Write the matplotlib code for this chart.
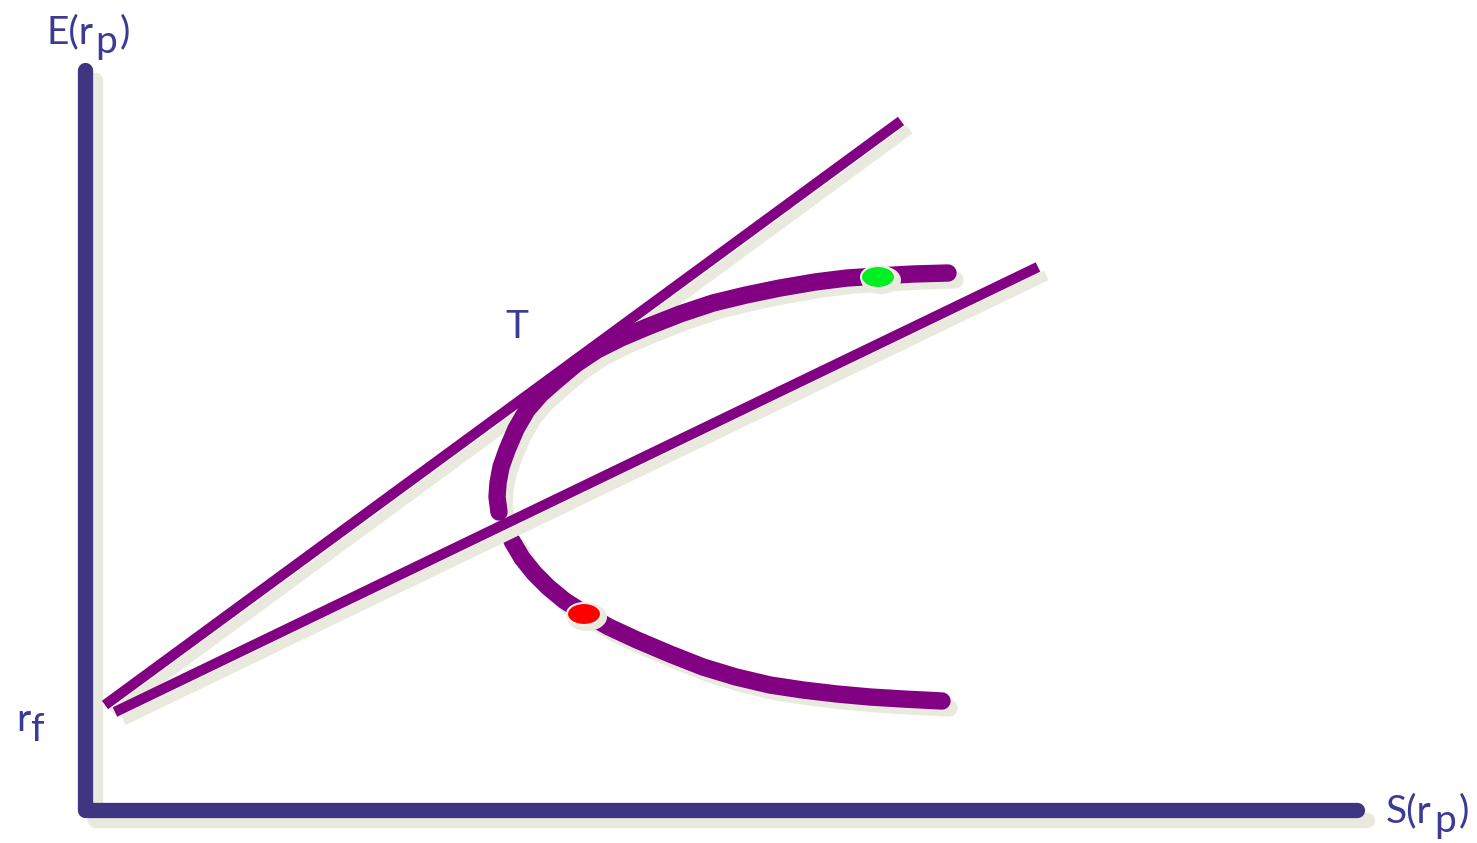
import matplotlib
matplotlib.use("Agg")
import matplotlib.pyplot as plt
import matplotlib.patheffects as pe
from matplotlib.patches import Ellipse

plt.rcParams['font.family'] = ['Lato', 'DejaVu Sans']

# ---- data (canvas units: x right, y down) ----
axis_x = [85, 85, 1357]
axis_y = [70, 810, 810]

upper_line_x = [105, 901]
upper_line_y = [705, 121]

lower_line_x = [115, 1038]
lower_line_y = [712, 267]

frontier_top_x = [948, 913, 878, 847, 815, 780, 746, 713, 680, 647, 621, 597, 576,
                  557, 541, 527, 516, 507, 501, 498, 497, 499]
frontier_top_y = [273, 274, 276, 278, 282, 288, 295, 303, 314, 327, 338, 350, 364,
                  380, 394, 410, 429, 450, 467, 483, 497, 512]
frontier_bot_x = [512, 522, 534, 548, 565, 584, 609, 637, 670, 703, 736, 770, 803,
                  837, 870, 903, 942]
frontier_bot_y = [541, 558, 573, 587, 601, 613, 627, 640, 654, 667, 677, 685, 690,
                  694, 697, 699, 701]

green_pt = (878, 277)
red_pt = (584, 614)

# label pieces: (text, x, baseline y)
label_parts = [
    ('E(r', 47, 43), ('p', 95, 53), (')', 120, 43),
    ('S(r', 1386, 822), ('p', 1434, 832), (')', 1459, 822),
    ('T', 505, 338),
    ('r', 16, 731), ('f', 30, 741),
]

# ---- styles ----
AXIS_C = '#3f3682'
PURPLE = '#820082'
SHADOW = '#e9e9dd'
TEXT_C = '#3b3b96'

fig = plt.figure(figsize=(14.77, 8.43), dpi=100)
ax = fig.add_axes([0, 0, 1, 1])
ax.set_xlim(0, 1477)
ax.set_ylim(843, 0)
ax.axis('off')

def shadow(off=(7, -7)):
    return [pe.SimpleLineShadow(offset=off, shadow_color=SHADOW, alpha=1.0), pe.Normal()]

# axes
ax.plot(axis_x, axis_y, color=AXIS_C, lw=11, solid_capstyle='round',
        solid_joinstyle='round', path_effects=shadow(), zorder=2)

# upper capital allocation line (under the curve)
ax.plot(upper_line_x, upper_line_y, color=PURPLE, lw=7.5, solid_capstyle='butt',
        path_effects=shadow((6, -6)), zorder=3)

# frontier curve
for fx, fy in [(frontier_top_x, frontier_top_y), (frontier_bot_x, frontier_bot_y)]:
    ax.plot(fx, fy, color=PURPLE, lw=12.5, solid_capstyle='round',
            solid_joinstyle='round', path_effects=shadow((5, -5)), zorder=4)

# lower capital allocation line (over the curve)
ax.plot(lower_line_x, lower_line_y, color=PURPLE, lw=7.5, solid_capstyle='butt',
        path_effects=shadow((6, -6)), zorder=5)

# dots
for (cx, cy), col in [(green_pt, '#00ee22'), (red_pt, '#ff0000')]:
    ax.add_patch(Ellipse((cx + 3, cy + 3), 40, 28, facecolor=SHADOW, edgecolor='none', zorder=6))
    ax.add_patch(Ellipse((cx, cy), 34, 22, facecolor=col, edgecolor='#f4f0e8', lw=1.5, zorder=7))

for t, x, y in label_parts:
    ax.text(x, y, t, fontsize=28, color=TEXT_C, ha='left', va='baseline', zorder=8)

fig.savefig('out.png', dpi=100, facecolor='white')
